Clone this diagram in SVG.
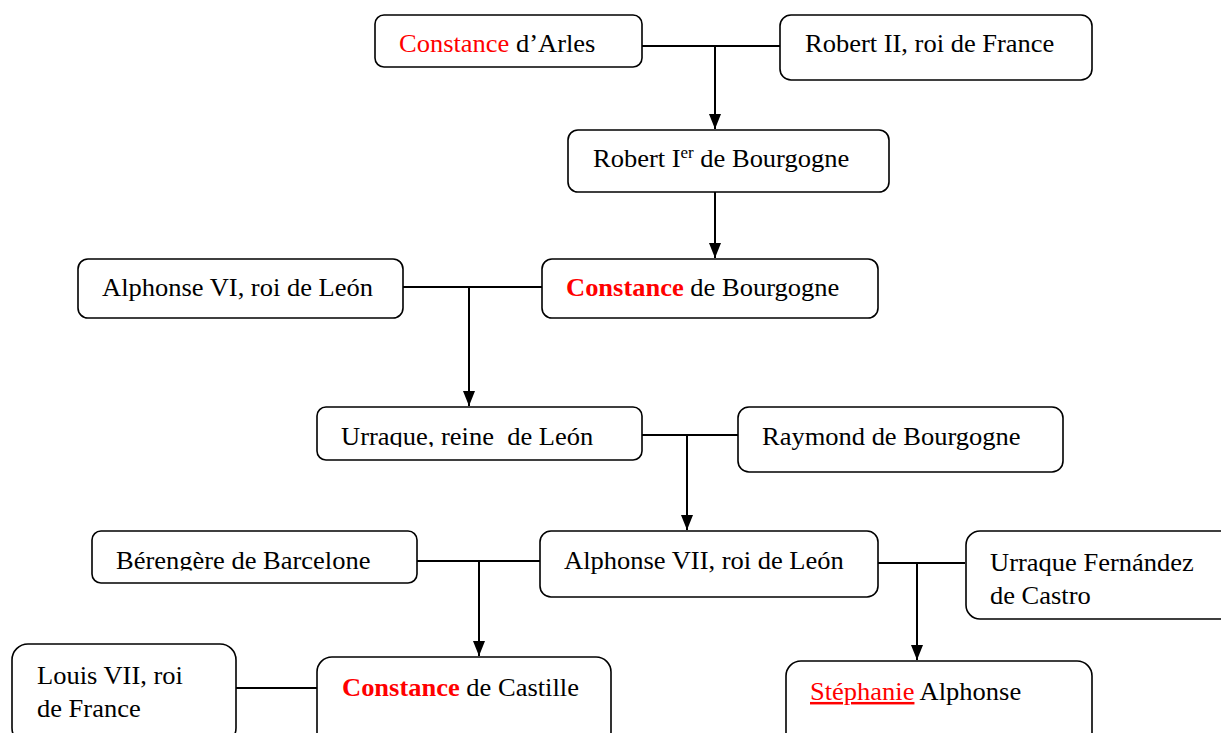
<svg xmlns="http://www.w3.org/2000/svg" width="1221" height="733" viewBox="0 0 1221 733">
<style>
.box{fill:#fff;stroke:#000;stroke-width:1.6}
text{font-family:"Liberation Serif","Times New Roman",serif;font-size:25px;fill:#000}
.red{fill:#ff0000}
.b{font-weight:bold}
.con line{stroke:#000;stroke-width:2}
</style>
<defs>
<clipPath id="c1"><rect x="317" y="407" width="325" height="40"/></clipPath>
<clipPath id="c2"><rect x="92" y="531" width="325" height="39.5"/></clipPath>
</defs>
<rect width="1221" height="733" fill="#fff"/>
<g id="connectors" class="con">
<line x1="642" y1="46" x2="780" y2="46"/>
<line x1="715" y1="46" x2="715" y2="129"/>
<line x1="715" y1="192" x2="715" y2="258"/>
<line x1="403" y1="287" x2="542" y2="287"/>
<line x1="469" y1="287" x2="469" y2="406"/>
<line x1="642" y1="435" x2="738" y2="435"/>
<line x1="687" y1="435" x2="687" y2="530"/>
<line x1="417" y1="561" x2="540" y2="561"/>
<line x1="479" y1="561" x2="479" y2="656"/>
<line x1="878" y1="563" x2="965" y2="563"/>
<line x1="917" y1="563" x2="917" y2="660"/>
<line x1="236" y1="688" x2="317" y2="688"/>
<g fill="#000">
<path d="M709,114 L721,114 L715,129 Z"/>
<path d="M709,243 L721,243 L715,258 Z"/>
<path d="M463,391 L475,391 L469,406 Z"/>
<path d="M681,515 L693,515 L687,530 Z"/>
<path d="M473,641 L485,641 L479,656 Z"/>
<path d="M911,645 L923,645 L917,660 Z"/>
</g>
</g>
<g id="n-constance-arles"><rect class="box" x="375" y="15" width="267" height="52" rx="9"/><text transform="translate(399,52) scale(1.06,1)"><tspan class="red">Constance</tspan> d’Arles</text></g>
<g id="n-robert2"><rect class="box" x="780" y="15" width="312" height="65" rx="11"/><text transform="translate(805,52) scale(1.06,1)">Robert II, roi de France</text></g>
<g id="n-robert1"><rect class="box" x="568" y="130" width="321" height="62" rx="10"/><text transform="translate(593,167) scale(1.06,1)">Robert I<tspan font-size="16" dy="-9">er</tspan><tspan dy="9"> de Bourgogne</tspan></text></g>
<g id="n-alphonse6"><rect class="box" x="78" y="259" width="325" height="59" rx="10"/><text transform="translate(102,296) scale(1.06,1)">Alphonse VI, roi de León</text></g>
<g id="n-constance-bourgogne"><rect class="box" x="542" y="259" width="336" height="59" rx="10"/><text transform="translate(566,296) scale(1.06,1)"><tspan class="red b">Constance</tspan> de Bourgogne</text></g>
<g id="n-urraque"><rect class="box" x="317" y="407" width="325" height="53" rx="9"/><g clip-path="url(#c1)"><text transform="translate(341,445) scale(1.06,1)">Urraque, reine&#160; de León</text></g></g>
<g id="n-raymond"><rect class="box" x="738" y="407" width="325" height="65" rx="11"/><text transform="translate(762,445) scale(1.06,1)">Raymond de Bourgogne</text></g>
<g id="n-berengere"><rect class="box" x="92" y="531" width="325" height="52" rx="9"/><g clip-path="url(#c2)"><text transform="translate(116,569) scale(1.06,1)">Bérengère de Barcelone</text></g></g>
<g id="n-alphonse7"><rect class="box" x="540" y="531" width="338" height="66" rx="11"/><text transform="translate(564,569) scale(1.06,1)">Alphonse VII, roi de León</text></g>
<g id="n-urraque-fernandez"><rect class="box" x="966" y="531" width="270" height="88" rx="14"/><text transform="translate(990,571) scale(1.06,1)">Urraque Fernández</text><text transform="translate(990,604) scale(1.06,1)">de Castro</text></g>
<g id="n-louis7"><rect class="box" x="12" y="644" width="224" height="100" rx="16"/><text transform="translate(37,684) scale(1.06,1)">Louis VII, roi</text><text transform="translate(37,717) scale(1.06,1)">de France</text></g>
<g id="n-constance-castille"><rect class="box" x="317" y="657" width="294" height="90" rx="15"/><text transform="translate(342,696) scale(1.06,1)"><tspan class="red b">Constance</tspan> de Castille</text></g>
<g id="n-stephanie"><rect class="box" x="786" y="661" width="306" height="90" rx="15"/><text transform="translate(810,700) scale(1.06,1)"><tspan class="red" text-decoration="underline">Stéphanie</tspan> Alphonse</text></g>
</svg>
